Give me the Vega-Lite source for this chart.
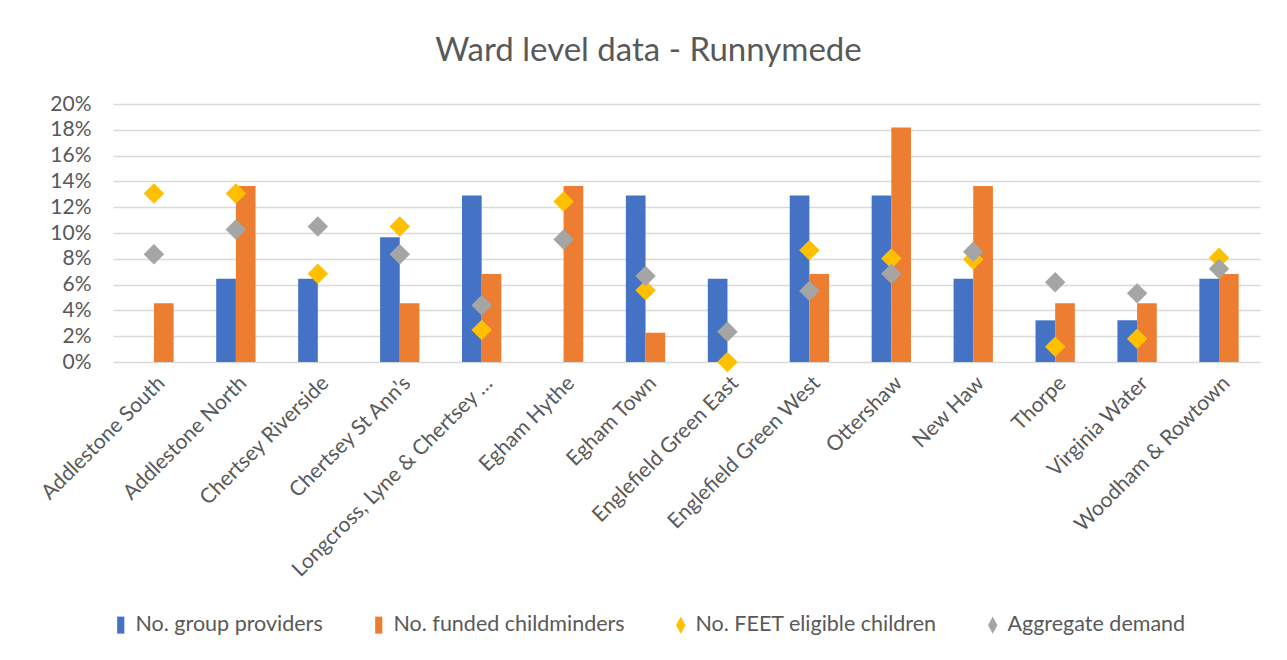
{
  "$schema": "https://vega.github.io/schema/vega-lite/v6.json",
  "width": 1147,
  "height": 258,
  "autosize": {"type": "none"},
  "padding": {"left": 113, "top": 104, "right": 27, "bottom": 298},
  "background": "white",
  "title": {
    "text": "Ward level data - Runnymede",
    "fontSize": 33,
    "fontWeight": "normal",
    "font": "Lato",
    "color": "#595959",
    "anchor": "middle",
    "frame": "group",
    "dx": -38,
    "offset": 25
  },
  "config": {
    "font": "Lato",
    "view": {"stroke": null},
    "axis": {"labelFont": "Lato", "labelColor": "#595959", "titleColor": "#595959"}
  },
  "data": {
    "values": [
      {"ward": "Addlestone South", "series": "No. group providers", "value": 0},
      {"ward": "Addlestone North", "series": "No. group providers", "value": 0.0645},
      {"ward": "Chertsey Riverside", "series": "No. group providers", "value": 0.0645},
      {"ward": "Chertsey St Ann’s", "series": "No. group providers", "value": 0.0968},
      {"ward": "Longcross, Lyne & Chertsey South", "series": "No. group providers", "value": 0.129},
      {"ward": "Egham Hythe", "series": "No. group providers", "value": 0},
      {"ward": "Egham Town", "series": "No. group providers", "value": 0.129},
      {"ward": "Englefield Green East", "series": "No. group providers", "value": 0.0645},
      {"ward": "Englefield Green West", "series": "No. group providers", "value": 0.129},
      {"ward": "Ottershaw", "series": "No. group providers", "value": 0.129},
      {"ward": "New Haw", "series": "No. group providers", "value": 0.0645},
      {"ward": "Thorpe", "series": "No. group providers", "value": 0.0323},
      {"ward": "Virginia Water", "series": "No. group providers", "value": 0.0323},
      {"ward": "Woodham & Rowtown", "series": "No. group providers", "value": 0.0645},
      {"ward": "Addlestone South", "series": "No. funded childminders", "value": 0.0455},
      {"ward": "Addlestone North", "series": "No. funded childminders", "value": 0.1364},
      {"ward": "Chertsey Riverside", "series": "No. funded childminders", "value": 0},
      {"ward": "Chertsey St Ann’s", "series": "No. funded childminders", "value": 0.0455},
      {"ward": "Longcross, Lyne & Chertsey South", "series": "No. funded childminders", "value": 0.0682},
      {"ward": "Egham Hythe", "series": "No. funded childminders", "value": 0.1364},
      {"ward": "Egham Town", "series": "No. funded childminders", "value": 0.0227},
      {"ward": "Englefield Green East", "series": "No. funded childminders", "value": 0},
      {"ward": "Englefield Green West", "series": "No. funded childminders", "value": 0.0682},
      {"ward": "Ottershaw", "series": "No. funded childminders", "value": 0.1818},
      {"ward": "New Haw", "series": "No. funded childminders", "value": 0.1364},
      {"ward": "Thorpe", "series": "No. funded childminders", "value": 0.0455},
      {"ward": "Virginia Water", "series": "No. funded childminders", "value": 0.0455},
      {"ward": "Woodham & Rowtown", "series": "No. funded childminders", "value": 0.0682},
      {"ward": "Addlestone South", "series": "No. FEET eligible children", "value": 0.1306},
      {"ward": "Addlestone North", "series": "No. FEET eligible children", "value": 0.1306},
      {"ward": "Chertsey Riverside", "series": "No. FEET eligible children", "value": 0.0684},
      {"ward": "Chertsey St Ann’s", "series": "No. FEET eligible children", "value": 0.105},
      {"ward": "Longcross, Lyne & Chertsey South", "series": "No. FEET eligible children", "value": 0.0248},
      {"ward": "Egham Hythe", "series": "No. FEET eligible children", "value": 0.1244},
      {"ward": "Egham Town", "series": "No. FEET eligible children", "value": 0.0557},
      {"ward": "Englefield Green East", "series": "No. FEET eligible children", "value": 0},
      {"ward": "Englefield Green West", "series": "No. FEET eligible children", "value": 0.0867},
      {"ward": "Ottershaw", "series": "No. FEET eligible children", "value": 0.0803},
      {"ward": "New Haw", "series": "No. FEET eligible children", "value": 0.0795},
      {"ward": "Thorpe", "series": "No. FEET eligible children", "value": 0.0119},
      {"ward": "Virginia Water", "series": "No. FEET eligible children", "value": 0.0181},
      {"ward": "Woodham & Rowtown", "series": "No. FEET eligible children", "value": 0.0808},
      {"ward": "Addlestone South", "series": "Aggregate demand", "value": 0.0836},
      {"ward": "Addlestone North", "series": "Aggregate demand", "value": 0.1027},
      {"ward": "Chertsey Riverside", "series": "Aggregate demand", "value": 0.105},
      {"ward": "Chertsey St Ann’s", "series": "Aggregate demand", "value": 0.0836},
      {"ward": "Longcross, Lyne & Chertsey South", "series": "Aggregate demand", "value": 0.0439},
      {"ward": "Egham Hythe", "series": "Aggregate demand", "value": 0.095},
      {"ward": "Egham Town", "series": "Aggregate demand", "value": 0.0666},
      {"ward": "Englefield Green East", "series": "Aggregate demand", "value": 0.0235},
      {"ward": "Englefield Green West", "series": "Aggregate demand", "value": 0.055},
      {"ward": "Ottershaw", "series": "Aggregate demand", "value": 0.0684},
      {"ward": "New Haw", "series": "Aggregate demand", "value": 0.0854},
      {"ward": "Thorpe", "series": "Aggregate demand", "value": 0.0619},
      {"ward": "Virginia Water", "series": "Aggregate demand", "value": 0.0532},
      {"ward": "Woodham & Rowtown", "series": "Aggregate demand", "value": 0.0723}
    ]
  },
  "encoding": {
    "x": {
      "field": "ward",
      "type": "nominal",
      "sort": null,
      "title": null,
      "scale": {"paddingInner": 0.52, "paddingOuter": 0.26},
      "axis": {
        "labelAngle": -45,
        "labelFontSize": 21,
        "labelLimit": 285,
        "domain": false,
        "ticks": false,
        "labelPadding": 10
      }
    },
    "y": {
      "field": "value",
      "type": "quantitative",
      "title": null,
      "scale": {"domain": [0, 0.2], "nice": false},
      "axis": {
        "values": [0, 0.02, 0.04, 0.06, 0.08, 0.1, 0.12, 0.14, 0.16, 0.18, 0.2],
        "format": ".0%",
        "labelFontSize": 21,
        "domain": false,
        "ticks": false,
        "labelPadding": 22,
        "gridColor": "#d9d9d9",
        "gridWidth": 1.5
      }
    },
    "color": {
      "field": "series",
      "type": "nominal",
      "title": null,
      "scale": {
        "domain": ["No. group providers", "No. funded childminders", "No. FEET eligible children", "Aggregate demand"],
        "range": ["#4472C4", "#ED7D31", "#FFC000", "#A5A5A5"]
      },
      "legend": {
        "orient": "none",
        "legendX": -3,
        "legendY": 510,
        "direction": "horizontal",
        "labelFontSize": 21.5,
        "labelLimit": 400,
        "labelColor": "#595959",
        "labelFont": "Lato",
        "columnPadding": 45,
        "symbolSize": 290,
        "labelOffset": 4,
        "symbolStrokeWidth": 0,
        "encode": {
          "symbols": {
            "update": {
              "shape": {"signal": "(datum.value === 'No. FEET eligible children' || datum.value === 'Aggregate demand') ? 'M0,-1L0.55,0L0,1L-0.55,0Z' : 'M-0.42,-1H0.42V1H-0.42Z'"},
              "strokeWidth": {"value": 0},
              "opacity": {"value": 1}
            }
          }
        }
      }
    }
  },
  "layer": [
    {
      "transform": [{"filter": "datum.series === 'No. group providers' || datum.series === 'No. funded childminders'"}],
      "mark": {"type": "bar"},
      "encoding": {
        "xOffset": {
          "field": "series",
          "type": "nominal",
          "sort": ["No. group providers", "No. funded childminders"],
          "scale": {"paddingInner": 0, "paddingOuter": 0}
        }
      }
    },
    {
      "transform": [{"filter": "datum.series === 'No. FEET eligible children' || datum.series === 'Aggregate demand'"}],
      "mark": {"type": "point", "shape": "diamond", "filled": true, "size": 420, "opacity": 1}
    }
  ]
}
